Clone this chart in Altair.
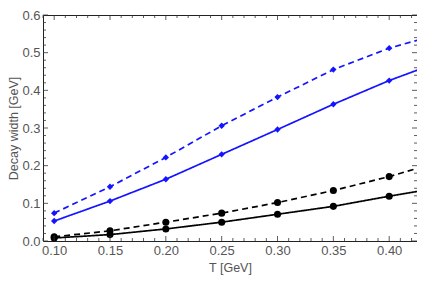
import altair as alt
import pandas as pd

T_pts = [0.10, 0.15, 0.20, 0.25, 0.30, 0.35, 0.40]
T_line = [0.10, 0.15, 0.20, 0.25, 0.30, 0.35, 0.40, 0.43]

blue_dashed = [0.074, 0.144, 0.222, 0.306, 0.382, 0.455, 0.512, 0.537]
blue_solid = [0.053, 0.106, 0.164, 0.230, 0.296, 0.363, 0.426, 0.459]
black_dashed = [0.011, 0.027, 0.050, 0.074, 0.102, 0.134, 0.171, 0.197]
black_solid = [0.008, 0.017, 0.032, 0.050, 0.071, 0.092, 0.119, 0.134]

x_major = [0.10, 0.15, 0.20, 0.25, 0.30, 0.35, 0.40]
x_minor = [0.09, 0.11, 0.12, 0.13, 0.14, 0.16, 0.17, 0.18, 0.19, 0.21, 0.22, 0.23, 0.24,
           0.26, 0.27, 0.28, 0.29, 0.31, 0.32, 0.33, 0.34, 0.36, 0.37, 0.38, 0.39,
           0.41, 0.42]
y_major = [0.0, 0.1, 0.2, 0.3, 0.4, 0.5, 0.6]
y_minor = [0.02, 0.04, 0.06, 0.08, 0.12, 0.14, 0.16, 0.18, 0.22, 0.24, 0.26, 0.28,
           0.32, 0.34, 0.36, 0.38, 0.42, 0.44, 0.46, 0.48, 0.52, 0.54, 0.56, 0.58]

W, H = 374, 226
X_MAX = 0.4249

series = [
    ("blue_dashed", blue_dashed, "#1414ff", [6, 4], "diamond", 40),
    ("blue_solid", blue_solid, "#1414ff", [1, 0], "diamond", 40),
    ("black_dashed", black_dashed, "#000000", [6, 4], "circle", 50),
    ("black_solid", black_solid, "#000000", [1, 0], "circle", 50),
]

xs = alt.Scale(domain=[0.09, X_MAX], nice=False, zero=False)
ys = alt.Scale(domain=[0.0, 0.6], nice=False)
xaxis = alt.Axis(values=x_major, format=".2f", ticks=False, domain=False,
                 grid=False, labelPadding=3, titlePadding=4,
                 labelOverlap=False, labelFlush=False)
yaxis = alt.Axis(values=y_major, format=".1f", ticks=False, domain=False,
                 grid=False, labelPadding=3, titlePadding=1,
                 labelOverlap=False, labelFlush=False)
XT = "T [GeV]"
YT = "Decay width [GeV]"

def X(f):
    return alt.X(f, scale=xs, axis=xaxis, title=XT)

def Y(f):
    return alt.Y(f, scale=ys, axis=yaxis, title=YT)

layers = []
for name, vals, color, dash, shape, size in series:
    dl = pd.DataFrame({"T": T_line, "v": vals})
    dp = pd.DataFrame({"T": T_pts, "v": vals[:len(T_pts)]})
    layers.append(alt.Chart(dl).mark_line(color=color, strokeWidth=1.7, strokeDash=dash, clip=True)
                  .encode(x=X("T:Q"), y=Y("v:Q")))
    layers.append(alt.Chart(dp).mark_point(color=color, filled=True, opacity=1, shape=shape, size=size)
                  .encode(x=X("T:Q"), y=Y("v:Q")))

def xticks(vals, length):
    d = pd.DataFrame({"t": vals})
    b = alt.Chart(d).mark_rule(color="#333333", strokeWidth=0.8).encode(
        x=X("t:Q"), y=alt.value(H), y2=alt.value(H - length))
    t = alt.Chart(d).mark_rule(color="#333333", strokeWidth=0.8).encode(
        x=X("t:Q"), y=alt.value(0), y2=alt.value(length))
    return [b, t]

def yticks(vals, length):
    d = pd.DataFrame({"t": vals})
    l = alt.Chart(d).mark_rule(color="#333333", strokeWidth=0.8).encode(
        y=Y("t:Q"), x=alt.value(0), x2=alt.value(length))
    r = alt.Chart(d).mark_rule(color="#333333", strokeWidth=0.8).encode(
        y=Y("t:Q"), x=alt.value(W), x2=alt.value(W - length))
    return [l, r]

tick_layers = xticks(x_major, 5) + xticks(x_minor, 3) + yticks(y_major, 5) + yticks(y_minor, 3)

chart = alt.layer(*(layers + tick_layers)).properties(
    width=W, height=H,
    autosize=alt.AutoSizeParams(type="none"),
    padding={"left": 35, "top": 7, "right": 0, "bottom": 34},
).configure_view(stroke="#222222", strokeWidth=1).configure_axis(
    labelFont="Liberation Sans", labelFontSize=13, labelColor="#555555",
    titleFont="Liberation Sans", titleFontSize=12.5, titleColor="#555555", titleFontWeight="normal",
)

chart.save("out.html", embed_options={"renderer": "svg", "actions": False})
